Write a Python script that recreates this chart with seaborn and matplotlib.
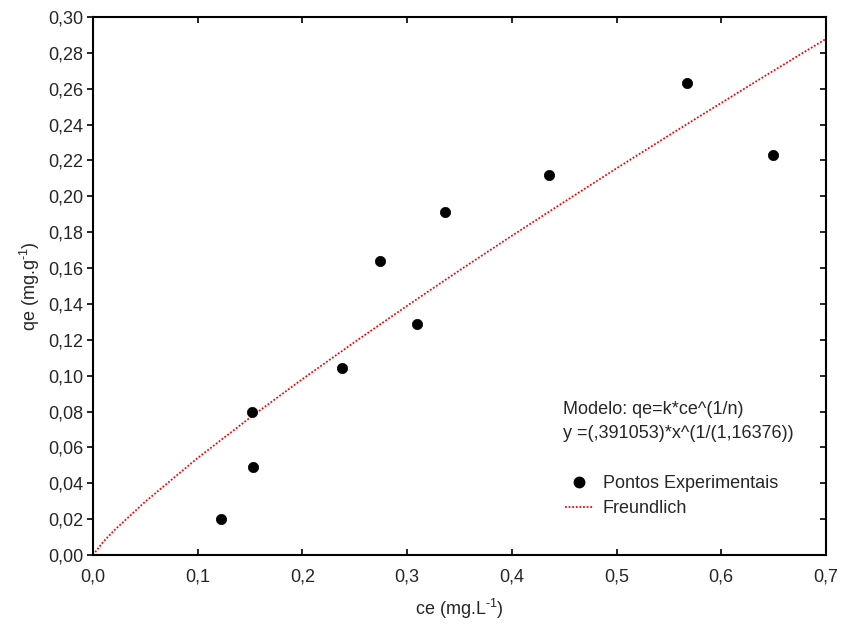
import matplotlib
matplotlib.use("Agg")
import matplotlib.pyplot as plt
import seaborn as sns
import pandas as pd
from matplotlib.ticker import FuncFormatter, MultipleLocator
from matplotlib.lines import Line2D

# Experimental points
ce_exp = [0.122, 0.152, 0.153, 0.238, 0.274, 0.309, 0.336, 0.435, 0.567, 0.649]
qe_exp = [0.020, 0.080, 0.049, 0.104, 0.164, 0.129, 0.191, 0.212, 0.263, 0.223]

# Freundlich curve
ce_fit = [0.0, 0.01, 0.02, 0.05, 0.10, 0.15, 0.20, 0.25, 0.30, 0.35, 0.40,
          0.45, 0.50, 0.55, 0.60, 0.65, 0.70]
qe_fit = [0.0, 0.0075, 0.0136, 0.0298, 0.0541, 0.0766, 0.0981, 0.1188, 0.1390,
          0.1587, 0.1780, 0.1969, 0.2156, 0.2340, 0.2521, 0.2701, 0.2878]

sns.set_theme(style="white")
plt.rcParams['font.family'] = ['Liberation Sans', 'DejaVu Sans']
plt.rcParams['mathtext.fontset'] = 'custom'
plt.rcParams['mathtext.rm'] = 'Liberation Sans'
plt.rcParams['mathtext.it'] = 'Liberation Sans'

FS = 13

fig = plt.figure(figsize=(8.43, 6.3), dpi=100)
ax = fig.add_axes([93/843, 1-555/630, (826-93)/843, (555-17)/630])

df_fit = pd.DataFrame({"ce": ce_fit, "qe": qe_fit})
df_exp = pd.DataFrame({"ce": ce_exp, "qe": qe_exp})

sns.lineplot(data=df_fit, x="ce", y="qe", ax=ax, color="red",
             linestyle=(0, (1, 1)), linewidth=1.3, sort=False)
sns.scatterplot(data=df_exp, x="ce", y="qe", ax=ax, color="black",
                s=55, edgecolor="black", linewidth=0.5, zorder=5)

ax.set_xlim(0, 0.7)
ax.set_ylim(0, 0.30)
ax.xaxis.set_major_locator(MultipleLocator(0.1))
ax.yaxis.set_major_locator(MultipleLocator(0.02))
ax.xaxis.set_major_formatter(FuncFormatter(lambda v, p: f"{v:.1f}".replace(".", ",")))
ax.yaxis.set_major_formatter(FuncFormatter(lambda v, p: f"{v:.2f}".replace(".", ",")))

for sp in ax.spines.values():
    sp.set_color("black")
    sp.set_linewidth(1.5)

ax.tick_params(axis="y", which="both", left=True, right=True, direction="out",
               length=4, width=1.2, color="black", labelsize=FS, pad=3)
ax.yaxis.set_ticks_position("both")
for t in ax.yaxis.get_major_ticks():
    t.tick1line.set_marker(matplotlib.lines.TICKLEFT)
    t.tick2line.set_marker(matplotlib.lines.TICKLEFT)
ax.tick_params(axis="x", which="both", bottom=True, top=True, direction="in",
               length=4, width=1.2, color="black", labelsize=FS, pad=10)

ax.set_xlabel(r"ce (mg.L$^{\text{-}1}$)", fontsize=FS, labelpad=8)
ax.set_ylabel(r"qe (mg.g$^{\text{-}1}$)", fontsize=FS, labelpad=4)

ax.text(563/843, 1-410/630, "Modelo: qe=k*ce^(1/n)", transform=fig.transFigure,
        fontsize=FS, va="center", ha="left")
ax.text(563/843, 1-433/630, "y =(,391053)*x^(1/(1,16376))", transform=fig.transFigure,
        fontsize=FS, va="center", ha="left")

handles = [Line2D([], [], marker="o", color="black", linestyle="none", markersize=7.5),
           Line2D([], [], color="red", linestyle=(0, (1, 1)), linewidth=1.3)]
ax.legend(handles, ["Pontos Experimentais", "Freundlich"], loc="upper left",
          bbox_to_anchor=((565-93)/733, 1-(475-17)/538), frameon=False,
          fontsize=FS, handlelength=1.6, handletextpad=0.5, labelspacing=0.45,
          borderaxespad=0, borderpad=0)

fig.savefig("out.png", dpi=100)
